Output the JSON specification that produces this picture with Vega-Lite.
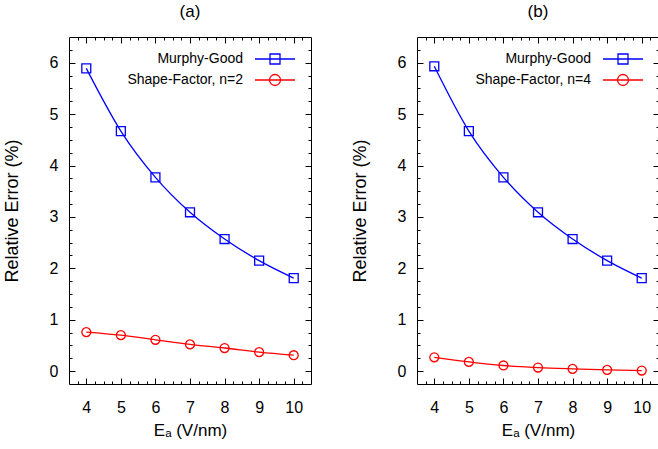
{
  "$schema": "https://vega.github.io/schema/vega-lite/v6.json",
  "padding": {"left": 2, "top": 2, "right": 0, "bottom": 0},
  "background": "white",
  "spacing": 35,
  "data": {"values": [
    {"panel": "a", "series": "Murphy-Good", "Ea": 4, "err": 5.89},
    {"panel": "a", "series": "Murphy-Good", "Ea": 5, "err": 4.67},
    {"panel": "a", "series": "Murphy-Good", "Ea": 6, "err": 3.77},
    {"panel": "a", "series": "Murphy-Good", "Ea": 7, "err": 3.09},
    {"panel": "a", "series": "Murphy-Good", "Ea": 8, "err": 2.57},
    {"panel": "a", "series": "Murphy-Good", "Ea": 9, "err": 2.15},
    {"panel": "a", "series": "Murphy-Good", "Ea": 10, "err": 1.81},
    {"panel": "a", "series": "Shape-Factor, n=2", "Ea": 4, "err": 0.76},
    {"panel": "a", "series": "Shape-Factor, n=2", "Ea": 5, "err": 0.70},
    {"panel": "a", "series": "Shape-Factor, n=2", "Ea": 6, "err": 0.61},
    {"panel": "a", "series": "Shape-Factor, n=2", "Ea": 7, "err": 0.52},
    {"panel": "a", "series": "Shape-Factor, n=2", "Ea": 8, "err": 0.45},
    {"panel": "a", "series": "Shape-Factor, n=2", "Ea": 9, "err": 0.37},
    {"panel": "a", "series": "Shape-Factor, n=2", "Ea": 10, "err": 0.31},
    {"panel": "b", "series": "Murphy-Good", "Ea": 4, "err": 5.93},
    {"panel": "b", "series": "Murphy-Good", "Ea": 5, "err": 4.67},
    {"panel": "b", "series": "Murphy-Good", "Ea": 6, "err": 3.77},
    {"panel": "b", "series": "Murphy-Good", "Ea": 7, "err": 3.09},
    {"panel": "b", "series": "Murphy-Good", "Ea": 8, "err": 2.57},
    {"panel": "b", "series": "Murphy-Good", "Ea": 9, "err": 2.15},
    {"panel": "b", "series": "Murphy-Good", "Ea": 10, "err": 1.81},
    {"panel": "b", "series": "Shape-Factor, n=4", "Ea": 4, "err": 0.27},
    {"panel": "b", "series": "Shape-Factor, n=4", "Ea": 5, "err": 0.18},
    {"panel": "b", "series": "Shape-Factor, n=4", "Ea": 6, "err": 0.11},
    {"panel": "b", "series": "Shape-Factor, n=4", "Ea": 7, "err": 0.07},
    {"panel": "b", "series": "Shape-Factor, n=4", "Ea": 8, "err": 0.045},
    {"panel": "b", "series": "Shape-Factor, n=4", "Ea": 9, "err": 0.025},
    {"panel": "b", "series": "Shape-Factor, n=4", "Ea": 10, "err": 0.012}
  ]},
  "resolve": {"scale": {"color": "independent", "shape": "independent"}, "legend": {"color": "independent", "shape": "independent"}},
  "hconcat": [
    {
      "width": 242, "height": 347,
      "title": {"text": "(a)", "fontSize": 17, "font": "Liberation Sans", "fontWeight": "normal", "offset": 16, "anchor": "middle", "frame": "group", "color": "#000"},
      "transform": [{"filter": "datum.panel === 'a'"}],
      "resolve": {"scale": {"color": "independent", "shape": "independent"}, "axis": {"x": "independent", "y": "independent"}},
      "layer": [
        {
          "mark": {"type": "line", "strokeWidth": 1.3, "interpolate": "monotone"},
          "encoding": {
            "x": {"field": "Ea", "type": "quantitative", "scale": {"domain": [3.5, 10.5], "nice": false, "zero": false},
                  "axis": {"orient": "bottom", "values": [4,5,6,7,8,9,10], "ticks": false, "tickSize": 0, "domain": false, "labelPadding": 15, "labelFontSize": 16, "title": "Eₐ (V/nm)", "titleFontSize": 17, "titlePadding": 7}},
            "y": {"field": "err", "type": "quantitative", "scale": {"domain": [-0.25, 6.5], "nice": false, "zero": false},
                  "axis": {"orient": "left", "values": [0,1,2,3,4,5,6], "ticks": false, "tickSize": 0, "domain": false, "labelPadding": 11, "labelFontSize": 16, "title": "Relative Error (%)", "titleFontSize": 18, "titlePadding": 28}},
            "color": {"field": "series", "type": "nominal", "scale": {"domain": ["Murphy-Good", "Shape-Factor, n=2"], "range": ["#0000ff", "#ff0000"]}, "legend": null}
          }
        },
        {
          "mark": {"type": "point", "filled": false, "strokeWidth": 1.3, "size": 80, "opacity": 1},
          "encoding": {
            "x": {"field": "Ea", "type": "quantitative", "axis": null},
            "y": {"field": "err", "type": "quantitative", "axis": null},
            "color": {"field": "series", "type": "nominal", "scale": {"domain": ["Murphy-Good", "Shape-Factor, n=2"], "range": ["#0000ff", "#ff0000"]}, "legend": null},
            "shape": {"field": "series", "type": "nominal", "scale": {"domain": ["Murphy-Good", "Shape-Factor, n=2"], "range": ["square", "circle"]}, "legend": null}
          }
        },
        {
          "mark": {"type": "point", "filled": false, "strokeWidth": 1.3, "size": 100, "opacity": 0},
          "encoding": {
            "x": {"field": "Ea", "type": "quantitative", "axis": null},
            "y": {"field": "err", "type": "quantitative", "axis": null},
            "color": {"field": "series", "type": "nominal", "scale": {"domain": ["Murphy-Good", "Shape-Factor, n=2"], "range": ["#0000ff", "#ff0000"]},
                      "legend": {"orient": "none", "legendX": 199, "legendY": 15, "title": null, "padding": 0, "symbolSize": 100, "symbolStrokeWidth": 1.3, "symbolOpacity": 1, "symbolFillColor": "transparent", "labelAlign": "right", "labelOffset": -39, "labelFontSize": 14, "labelFont": "Liberation Sans", "labelColor": "#000", "rowPadding": 4}},
            "shape": {"field": "series", "type": "nominal", "scale": {"domain": ["Murphy-Good", "Shape-Factor, n=2"], "range": ["M-4,0H4M-1,-1H1V1H-1Z", "M-4,0H4M-1.1,0A1.1,1.1,0,1,1,1.1,0A1.1,1.1,0,1,1,-1.1,0Z"]},
                      "legend": {"orient": "none", "legendX": 199, "legendY": 15, "title": null, "padding": 0, "symbolSize": 100, "symbolStrokeWidth": 1.3, "symbolOpacity": 1, "symbolFillColor": "transparent", "labelAlign": "right", "labelOffset": -39, "labelFontSize": 14, "labelFont": "Liberation Sans", "labelColor": "#000", "rowPadding": 4}}
          }
        },
        {
          "mark": {"type": "point", "opacity": 0},
          "encoding": {
            "x": {"field": "Ea", "type": "quantitative", "axis": {"orient": "bottom", "values": [4,5,6,7,8,9,10], "labels": false, "domain": false, "tickSize": -6, "title": null}},
            "y": {"field": "err", "type": "quantitative", "axis": {"orient": "left", "values": [0,1,2,3,4,5,6], "labels": false, "domain": false, "tickSize": -6, "title": null}}
          }
        },
        {
          "mark": {"type": "point", "opacity": 0},
          "encoding": {
            "x": {"field": "Ea", "type": "quantitative", "axis": {"orient": "bottom", "values": [3.75,4.25,4.5,4.75,5.25,5.5,5.75,6.25,6.5,6.75,7.25,7.5,7.75,8.25,8.5,8.75,9.25,9.5,9.75,10.25], "labels": false, "domain": false, "tickSize": -3, "title": null}},
            "y": {"field": "err", "type": "quantitative", "axis": {"orient": "left", "values": [0.25,0.5,0.75,1.25,1.5,1.75,2.25,2.5,2.75,3.25,3.5,3.75,4.25,4.5,4.75,5.25,5.5,5.75,6.25], "labels": false, "domain": false, "tickSize": -3, "title": null}}
          }
        },
        {
          "mark": {"type": "point", "opacity": 0},
          "encoding": {
            "x": {"field": "Ea", "type": "quantitative", "axis": {"orient": "top", "values": [4,5,6,7,8,9,10], "labels": false, "domain": false, "tickSize": -6, "title": null}},
            "y": {"field": "err", "type": "quantitative", "axis": {"orient": "right", "values": [0,1,2,3,4,5,6], "labels": false, "domain": false, "tickSize": -6, "title": null}}
          }
        },
        {
          "mark": {"type": "point", "opacity": 0},
          "encoding": {
            "x": {"field": "Ea", "type": "quantitative", "axis": {"orient": "top", "values": [3.75,4.25,4.5,4.75,5.25,5.5,5.75,6.25,6.5,6.75,7.25,7.5,7.75,8.25,8.5,8.75,9.25,9.5,9.75,10.25], "labels": false, "domain": false, "tickSize": -3, "title": null}},
            "y": {"field": "err", "type": "quantitative", "axis": {"orient": "right", "values": [0.25,0.5,0.75,1.25,1.5,1.75,2.25,2.5,2.75,3.25,3.5,3.75,4.25,4.5,4.75,5.25,5.5,5.75,6.25], "labels": false, "domain": false, "tickSize": -3, "title": null}}
          }
        }
      ]
    },
    {
      "width": 242, "height": 347,
      "title": {"text": "(b)", "fontSize": 17, "font": "Liberation Sans", "fontWeight": "normal", "offset": 16, "anchor": "middle", "frame": "group", "color": "#000"},
      "transform": [{"filter": "datum.panel === 'b'"}],
      "resolve": {"scale": {"color": "independent", "shape": "independent"}, "axis": {"x": "independent", "y": "independent"}},
      "layer": [
        {
          "mark": {"type": "line", "strokeWidth": 1.3, "interpolate": "monotone"},
          "encoding": {
            "x": {"field": "Ea", "type": "quantitative", "scale": {"domain": [3.5, 10.5], "nice": false, "zero": false},
                  "axis": {"orient": "bottom", "values": [4,5,6,7,8,9,10], "ticks": false, "tickSize": 0, "domain": false, "labelPadding": 15, "labelFontSize": 16, "title": "Eₐ (V/nm)", "titleFontSize": 17, "titlePadding": 7}},
            "y": {"field": "err", "type": "quantitative", "scale": {"domain": [-0.25, 6.5], "nice": false, "zero": false},
                  "axis": {"orient": "left", "values": [0,1,2,3,4,5,6], "ticks": false, "tickSize": 0, "domain": false, "labelPadding": 11, "labelFontSize": 16, "title": "Relative Error (%)", "titleFontSize": 18, "titlePadding": 28}},
            "color": {"field": "series", "type": "nominal", "scale": {"domain": ["Murphy-Good", "Shape-Factor, n=4"], "range": ["#0000ff", "#ff0000"]}, "legend": null}
          }
        },
        {
          "mark": {"type": "point", "filled": false, "strokeWidth": 1.3, "size": 80, "opacity": 1},
          "encoding": {
            "x": {"field": "Ea", "type": "quantitative", "axis": null},
            "y": {"field": "err", "type": "quantitative", "axis": null},
            "color": {"field": "series", "type": "nominal", "scale": {"domain": ["Murphy-Good", "Shape-Factor, n=4"], "range": ["#0000ff", "#ff0000"]}, "legend": null},
            "shape": {"field": "series", "type": "nominal", "scale": {"domain": ["Murphy-Good", "Shape-Factor, n=4"], "range": ["square", "circle"]}, "legend": null}
          }
        },
        {
          "mark": {"type": "point", "filled": false, "strokeWidth": 1.3, "size": 100, "opacity": 0},
          "encoding": {
            "x": {"field": "Ea", "type": "quantitative", "axis": null},
            "y": {"field": "err", "type": "quantitative", "axis": null},
            "color": {"field": "series", "type": "nominal", "scale": {"domain": ["Murphy-Good", "Shape-Factor, n=4"], "range": ["#0000ff", "#ff0000"]},
                      "legend": {"orient": "none", "legendX": 199, "legendY": 15, "title": null, "padding": 0, "symbolSize": 100, "symbolStrokeWidth": 1.3, "symbolOpacity": 1, "symbolFillColor": "transparent", "labelAlign": "right", "labelOffset": -39, "labelFontSize": 14, "labelFont": "Liberation Sans", "labelColor": "#000", "rowPadding": 4}},
            "shape": {"field": "series", "type": "nominal", "scale": {"domain": ["Murphy-Good", "Shape-Factor, n=4"], "range": ["M-4,0H4M-1,-1H1V1H-1Z", "M-4,0H4M-1.1,0A1.1,1.1,0,1,1,1.1,0A1.1,1.1,0,1,1,-1.1,0Z"]},
                      "legend": {"orient": "none", "legendX": 199, "legendY": 15, "title": null, "padding": 0, "symbolSize": 100, "symbolStrokeWidth": 1.3, "symbolOpacity": 1, "symbolFillColor": "transparent", "labelAlign": "right", "labelOffset": -39, "labelFontSize": 14, "labelFont": "Liberation Sans", "labelColor": "#000", "rowPadding": 4}}
          }
        },
        {
          "mark": {"type": "point", "opacity": 0},
          "encoding": {
            "x": {"field": "Ea", "type": "quantitative", "axis": {"orient": "bottom", "values": [4,5,6,7,8,9,10], "labels": false, "domain": false, "tickSize": -6, "title": null}},
            "y": {"field": "err", "type": "quantitative", "axis": {"orient": "left", "values": [0,1,2,3,4,5,6], "labels": false, "domain": false, "tickSize": -6, "title": null}}
          }
        },
        {
          "mark": {"type": "point", "opacity": 0},
          "encoding": {
            "x": {"field": "Ea", "type": "quantitative", "axis": {"orient": "bottom", "values": [3.75,4.25,4.5,4.75,5.25,5.5,5.75,6.25,6.5,6.75,7.25,7.5,7.75,8.25,8.5,8.75,9.25,9.5,9.75,10.25], "labels": false, "domain": false, "tickSize": -3, "title": null}},
            "y": {"field": "err", "type": "quantitative", "axis": {"orient": "left", "values": [0.25,0.5,0.75,1.25,1.5,1.75,2.25,2.5,2.75,3.25,3.5,3.75,4.25,4.5,4.75,5.25,5.5,5.75,6.25], "labels": false, "domain": false, "tickSize": -3, "title": null}}
          }
        },
        {
          "mark": {"type": "point", "opacity": 0},
          "encoding": {
            "x": {"field": "Ea", "type": "quantitative", "axis": {"orient": "top", "values": [4,5,6,7,8,9,10], "labels": false, "domain": false, "tickSize": -6, "title": null}},
            "y": {"field": "err", "type": "quantitative", "axis": {"orient": "right", "values": [0,1,2,3,4,5,6], "labels": false, "domain": false, "tickSize": -6, "title": null}}
          }
        },
        {
          "mark": {"type": "point", "opacity": 0},
          "encoding": {
            "x": {"field": "Ea", "type": "quantitative", "axis": {"orient": "top", "values": [3.75,4.25,4.5,4.75,5.25,5.5,5.75,6.25,6.5,6.75,7.25,7.5,7.75,8.25,8.5,8.75,9.25,9.5,9.75,10.25], "labels": false, "domain": false, "tickSize": -3, "title": null}},
            "y": {"field": "err", "type": "quantitative", "axis": {"orient": "right", "values": [0.25,0.5,0.75,1.25,1.5,1.75,2.25,2.5,2.75,3.25,3.5,3.75,4.25,4.5,4.75,5.25,5.5,5.75,6.25], "labels": false, "domain": false, "tickSize": -3, "title": null}}
          }
        }
      ]
    }
  ],
  "config": {
    "font": "Liberation Sans",
    "view": {"stroke": "#000", "strokeWidth": 1},
    "axis": {"grid": false, "tickColor": "#000", "tickWidth": 1, "labelColor": "#000", "titleColor": "#000", "labelFont": "Liberation Sans", "titleFont": "Liberation Sans", "titleFontWeight": "normal"}
  }
}
